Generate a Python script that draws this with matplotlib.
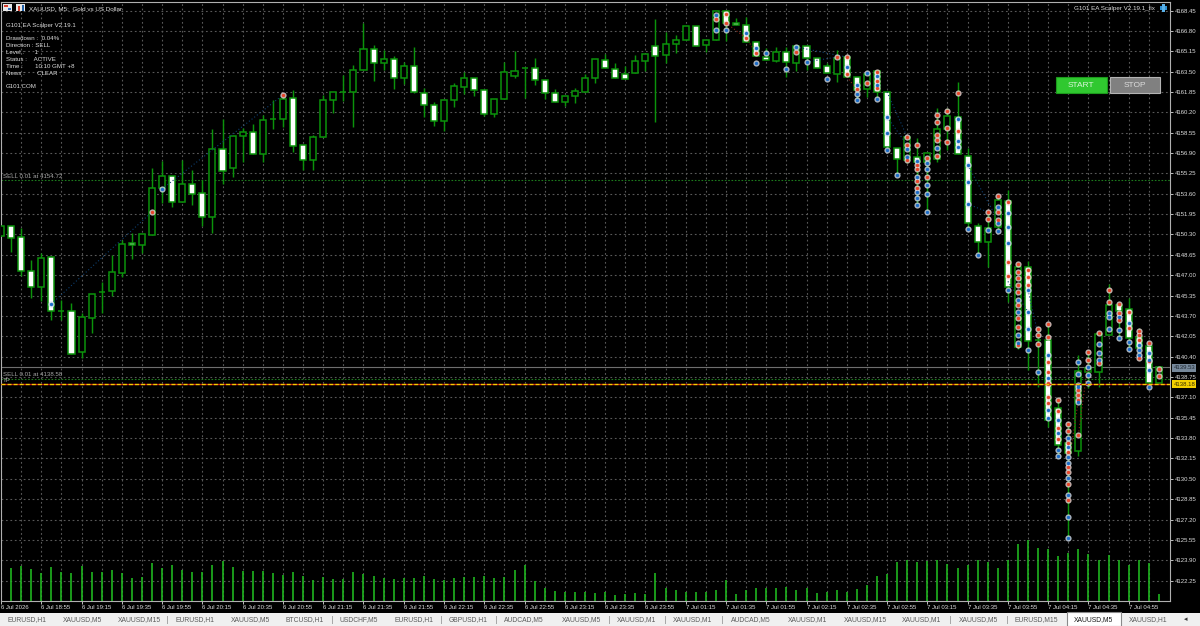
import numpy as np
import matplotlib
matplotlib.use('Agg')
import matplotlib.pyplot as plt
from matplotlib.patches import Rectangle

# bar values
opens = [4150.18, 4150.99, 4150.10, 4147.35, 4146.05, 4148.48, 4144.11, 4144.11, 4140.79, 4143.54,
         4145.65, 4145.73, 4147.19, 4149.58, 4149.45, 4150.26, 4154.07, 4155.04, 4152.94, 4154.40,
         4153.67, 4151.72, 4157.23, 4155.69, 4158.28, 4158.61, 4156.83, 4159.66, 4159.66, 4161.36,
         4157.55, 4156.34, 4158.20, 4161.20, 4161.85, 4161.85, 4163.63, 4165.33, 4164.20, 4164.52,
         4162.98, 4163.95, 4161.77, 4160.80, 4159.50, 4161.20, 4162.25, 4162.98, 4162.01, 4160.07,
         4161.28, 4163.14, 4163.79, 4163.79, 4162.82, 4161.77, 4161.04, 4161.52, 4161.85, 4162.98,
         4164.44, 4163.71, 4163.31, 4163.39, 4164.36, 4165.57, 4164.84, 4165.74, 4166.06, 4167.19,
         4165.65, 4166.06, 4168.41, 4167.44, 4167.27, 4165.90, 4164.68, 4164.36, 4165.09, 4164.20,
         4165.57, 4164.60, 4163.95, 4163.31, 4164.68, 4163.06, 4162.09, 4163.55, 4161.85, 4157.31,
         4156.34, 4156.58, 4156.18, 4156.42, 4158.85, 4159.82, 4156.66, 4150.99, 4149.70, 4150.91,
         4153.02, 4141.19, 4147.67, 4141.76, 4141.76, 4136.25, 4133.42, 4132.77, 4139.17, 4139.17,
         4142.16, 4144.60, 4144.27, 4142.00, 4141.27, 4138.28]
highs = [4150.99, 4150.99, 4150.83, 4148.24, 4148.81, 4148.48, 4145.00, 4144.76, 4143.95, 4145.49,
         4146.46, 4148.64, 4149.86, 4150.43, 4150.35, 4155.69, 4156.26, 4155.04, 4156.34, 4155.53,
         4154.72, 4158.85, 4159.66, 4158.28, 4158.93, 4159.26, 4159.98, 4161.20, 4161.60, 4162.01,
         4157.55, 4158.36, 4161.60, 4161.85, 4163.22, 4164.03, 4167.44, 4165.65, 4165.25, 4164.76,
         4164.28, 4165.49, 4162.17, 4161.04, 4161.20, 4162.58, 4163.47, 4162.98, 4162.01, 4161.28,
         4164.28, 4165.17, 4163.79, 4164.60, 4162.82, 4162.09, 4161.52, 4162.17, 4163.31, 4164.52,
         4164.93, 4164.20, 4163.95, 4164.84, 4164.93, 4167.76, 4166.71, 4166.46, 4167.19, 4167.19,
         4166.06, 4168.41, 4168.41, 4167.84, 4167.92, 4165.90, 4165.41, 4165.49, 4165.49, 4165.57,
         4165.57, 4164.60, 4164.20, 4165.25, 4164.68, 4163.06, 4163.47, 4163.55, 4161.85, 4157.31,
         4158.28, 4158.12, 4156.91, 4160.55, 4160.55, 4162.66, 4157.31, 4151.24, 4152.13, 4153.50,
         4153.91, 4147.92, 4148.16, 4142.81, 4143.06, 4137.06, 4135.04, 4140.54, 4140.95, 4142.41,
         4146.30, 4144.76, 4145.16, 4142.73, 4141.52, 4139.57]
lows = [4150.18, 4148.89, 4146.94, 4145.16, 4144.92, 4143.38, 4143.38, 4140.63, 4140.30, 4142.33,
        4143.95, 4145.32, 4146.86, 4148.32, 4148.81, 4150.26, 4152.86, 4152.53, 4152.94, 4152.69,
        4150.99, 4150.43, 4154.40, 4154.96, 4156.18, 4156.83, 4156.18, 4158.85, 4159.01, 4156.99,
        4155.53, 4155.53, 4158.20, 4160.15, 4161.12, 4159.01, 4163.63, 4162.74, 4163.63, 4162.09,
        4162.50, 4161.77, 4159.82, 4159.09, 4158.69, 4160.63, 4161.69, 4161.52, 4159.90, 4159.82,
        4161.28, 4162.98, 4161.36, 4162.41, 4161.28, 4161.04, 4160.71, 4160.96, 4161.85, 4162.58,
        4163.79, 4162.98, 4162.90, 4163.39, 4163.55, 4159.42, 4164.20, 4165.01, 4166.06, 4165.57,
        4165.09, 4166.06, 4165.98, 4167.27, 4165.90, 4164.76, 4164.44, 4164.28, 4163.06, 4163.55,
        4163.63, 4163.79, 4163.39, 4162.66, 4163.06, 4161.04, 4161.44, 4161.28, 4157.15, 4155.12,
        4156.10, 4152.69, 4152.13, 4156.18, 4157.15, 4156.83, 4150.67, 4148.64, 4147.67, 4150.59,
        4144.84, 4141.03, 4139.33, 4137.95, 4134.71, 4132.20, 4125.72, 4132.36, 4137.87, 4137.95,
        4142.16, 4141.76, 4141.03, 4140.14, 4137.95, 4138.28]
closes = [4150.99, 4150.02, 4147.35, 4146.05, 4148.40, 4144.11, 4144.11, 4140.63, 4143.62, 4145.49,
          4145.65, 4147.27, 4149.54, 4149.45, 4150.35, 4154.07, 4155.04, 4152.94, 4154.40, 4153.59,
          4151.72, 4157.23, 4155.45, 4158.28, 4158.61, 4156.83, 4159.58, 4159.66, 4161.28, 4157.47,
          4156.34, 4158.20, 4161.20, 4161.85, 4161.85, 4163.63, 4165.33, 4164.20, 4164.52, 4162.98,
          4163.95, 4161.85, 4160.80, 4159.50, 4161.20, 4162.33, 4162.98, 4162.01, 4160.07, 4161.28,
          4163.47, 4163.55, 4163.79, 4162.82, 4161.77, 4161.04, 4161.52, 4161.93, 4162.98, 4164.52,
          4163.79, 4162.98, 4162.90, 4164.36, 4164.93, 4164.76, 4165.74, 4166.06, 4167.19, 4165.57,
          4166.06, 4168.41, 4167.44, 4167.27, 4165.90, 4164.76, 4164.44, 4165.09, 4164.28, 4165.57,
          4164.60, 4163.79, 4163.39, 4164.60, 4163.06, 4162.01, 4163.31, 4161.85, 4157.39, 4156.42,
          4158.20, 4156.18, 4156.91, 4158.85, 4159.90, 4156.83, 4151.24, 4149.70, 4150.83, 4153.10,
          4146.05, 4147.67, 4141.68, 4141.76, 4135.28, 4133.25, 4132.61, 4139.25, 4139.49, 4142.25,
          4144.60, 4144.11, 4141.92, 4141.11, 4138.28, 4139.53]
volumes = [0, 33, 35, 32, 28, 34, 29, 28, 35, 29, 29, 31, 28, 23, 24, 38, 33, 36, 31, 29, 29, 36, 40, 34,
           30, 30, 30, 28, 26, 29, 25, 21, 24, 22, 22, 29, 27, 25, 23, 22, 23, 23, 25, 22, 21, 23, 24, 24,
           25, 23, 24, 31, 36, 20, 13, 10, 9, 9, 9, 8, 9, 6, 7, 8, 7, 28, 13, 11, 9, 9, 9, 11, 21, 7, 11,
           13, 13, 13, 14, 11, 13, 8, 9, 11, 9, 12, 16, 25, 27, 39, 41, 39, 40, 41, 37, 33, 36, 41, 39,
           33, 41, 57, 61, 53, 52, 45, 48, 52, 47, 41, 46, 41, 36, 41, 38, 7]

sell_bars = [15, 28, 71, 72, 72, 74, 75, 79, 83, 84, 84, 85, 86, 87, 87, 87, 90, 90, 90, 91, 91, 91, 91, 91,
             92, 92, 93, 93, 93, 93, 93, 94, 94, 94, 95, 95, 98, 98, 99, 99, 99, 100, 100, 100,
             101, 101, 101, 101, 101, 101, 101, 101, 101, 102, 102, 102, 103, 103, 103,
             104, 104, 104, 104, 104, 104, 104, 104, 105, 105, 105, 105,
             106, 106, 106, 106, 106, 106, 106, 106, 107, 107, 107, 107, 108, 108, 109, 109,
             110, 110, 111, 111, 111, 112, 112, 113, 113, 113, 113, 114, 114, 115, 115]
sell_prices = [4152.13, 4161.60, 4167.76, 4168.17, 4167.44, 4166.22, 4165.01, 4165.09, 4164.68, 4164.68,
               4163.31, 4162.09, 4162.58, 4163.47, 4162.74, 4162.17, 4158.20, 4157.55, 4156.34, 4157.55,
               4155.93, 4155.61, 4154.64, 4154.07, 4156.50, 4154.96, 4159.98, 4159.42, 4158.36, 4157.96,
               4156.66, 4160.31, 4158.93, 4157.80, 4161.77, 4158.69, 4152.13, 4151.56, 4153.42, 4152.13,
               4151.48, 4152.94, 4148.08, 4146.94, 4147.92, 4147.27, 4146.78, 4146.21, 4145.65, 4144.60,
               4143.54, 4142.81, 4141.35, 4147.43, 4146.86, 4146.21, 4142.65, 4142.16, 4141.43, 4143.06,
               4142.00, 4139.98, 4139.17, 4138.28, 4138.20, 4137.14, 4136.66, 4136.90, 4136.01, 4134.63,
               4133.74, 4134.96, 4134.39, 4133.42, 4132.69, 4131.47, 4131.07, 4130.09, 4128.80, 4134.07,
               4137.70, 4137.30, 4136.90, 4140.79, 4140.14, 4142.33, 4139.90, 4145.81, 4144.84, 4144.68,
               4143.95, 4143.38, 4144.03, 4142.73, 4142.49, 4142.16, 4141.76, 4140.30, 4141.52, 4140.06,
               4139.40, 4138.84]
buy_bars = [5, 16, 71, 71, 72, 74, 75, 75, 76, 78, 79, 80, 82, 84, 85, 85, 85, 86, 87, 87, 87, 88, 88, 88,
            89, 90, 90, 91, 91, 91, 91, 91, 92, 92, 92, 92, 92, 93, 95, 95, 95, 96, 96, 96, 96, 97, 98,
            99, 99, 99, 100, 100, 100, 100, 101, 101, 101, 101, 102, 102, 102, 102, 103,
            104, 104, 104, 104, 105, 105, 105, 105, 106, 106, 106, 106, 106, 106, 106, 106,
            107, 107, 107, 107, 107, 108, 108, 108, 109, 109, 109, 110, 110, 110, 111, 111, 111,
            112, 112, 112, 113, 113, 113, 114, 114, 114, 114]
buy_prices = [4144.68, 4153.99, 4168.09, 4166.87, 4166.87, 4166.63, 4165.41, 4164.20, 4165.01, 4163.71,
              4165.49, 4164.28, 4162.90, 4163.87, 4162.41, 4161.69, 4161.20, 4163.39, 4163.14, 4162.41,
              4161.28, 4159.82, 4158.53, 4157.15, 4155.12, 4157.23, 4156.58, 4156.26, 4154.96, 4153.74,
              4153.26, 4152.69, 4156.10, 4155.61, 4154.31, 4153.59, 4152.13, 4157.31, 4159.66, 4157.88,
              4157.39, 4155.93, 4154.56, 4152.77, 4150.75, 4148.64, 4150.67, 4152.53, 4151.24, 4150.59,
              4152.04, 4150.91, 4149.61, 4145.81, 4145.00, 4144.03, 4142.16, 4141.52, 4145.81, 4144.03,
              4142.65, 4140.95, 4139.17, 4140.54, 4138.68, 4136.08, 4135.42, 4135.28, 4134.22, 4132.85,
              4132.36, 4133.82, 4133.09, 4132.28, 4131.79, 4130.58, 4129.20, 4127.42, 4125.72, 4139.98,
              4139.00, 4138.11, 4137.95, 4136.74, 4139.57, 4138.92, 4138.28, 4141.43, 4140.70, 4140.14,
              4143.95, 4143.62, 4142.65, 4143.62, 4142.57, 4141.92, 4143.14, 4141.59, 4141.03, 4141.35,
              4140.95, 4140.54, 4140.70, 4140.14, 4139.33, 4137.95]

# closed trades: bar and price at each end of the dotted line
blue_from_bar = [5, 16, 79, 80, 88, 88, 96, 96, 100, 102]
blue_from_price = [4144.68, 4153.99, 4165.49, 4164.28, 4161.85, 4159.82, 4155.93, 4152.77, 4146.50, 4145.81]
blue_to_bar = [15, 28, 84, 83, 90, 90, 99, 98, 102, 103]
blue_to_price = [4152.13, 4161.60, 4164.68, 4164.68, 4158.20, 4157.55, 4151.48, 4152.13, 4144.03, 4142.16]
red_from_bar = [72, 74, 84, 93, 106, 107]
red_from_price = [4167.44, 4166.22, 4163.06, 4157.96, 4131.47, 4134.07]
red_to_bar = [74, 75, 85, 94, 107, 108]
red_to_price = [4166.22, 4165.01, 4162.09, 4157.80, 4136.90, 4140.14]

sell_level_top = 4154.72
sell_level_low = 4138.58
bid_level = 4139.53
tp_level = 4138.18

price_ticks = [4168.45, 4166.80, 4165.15, 4163.50, 4161.85, 4160.20, 4158.55, 4156.90, 4155.25, 4153.60,
               4151.95, 4150.30, 4148.65, 4147.00, 4145.35, 4143.70, 4142.05, 4140.40, 4138.75, 4137.10,
               4135.45, 4133.80, 4132.15, 4130.50, 4128.85, 4127.20, 4125.55, 4123.90, 4122.25]
time_labels = ['6 Jul 2026', '6 Jul 18:55', '6 Jul 19:15', '6 Jul 19:35', '6 Jul 19:55', '6 Jul 20:15',
               '6 Jul 20:35', '6 Jul 20:55', '6 Jul 21:15', '6 Jul 21:35', '6 Jul 21:55', '6 Jul 22:15',
               '6 Jul 22:35', '6 Jul 22:55', '6 Jul 23:15', '6 Jul 23:35', '6 Jul 23:55', '7 Jul 01:15',
               '7 Jul 01:35', '7 Jul 01:55', '7 Jul 02:15', '7 Jul 02:35', '7 Jul 02:55', '7 Jul 03:15',
               '7 Jul 03:35', '7 Jul 03:55', '7 Jul 04:15', '7 Jul 04:35', '7 Jul 04:55']
tab_names = ['EURUSD,H1', 'XAUUSD,M5', 'XAUUSD,M15', 'EURUSD,H1', 'XAUUSD,M5', 'BTCUSD,H1', 'USDCHF,M5',
             'EURUSD,H1', 'GBPUSD,H1', 'AUDCAD,M5', 'XAUUSD,M5', 'XAUUSD,M1', 'XAUUSD,M1', 'AUDCAD,M5',
             'XAUUSD,M1', 'XAUUSD,M15', 'XAUUSD,M1', 'XAUUSD,M5', 'EURUSD,M15', 'XAUUSD,M5', 'XAUUSD,H1']
tab_centres = [27, 82, 139, 195, 250, 305, 359, 414, 468, 524, 581, 637, 693, 751, 808, 865, 922, 978, 1036, 1093, 1148]
panel_lines = ['G101 EA Scalper V2.19.1', 'Drawdown :  0.04%', 'Direction : SELL', 'Level :      1',
               'Status :    ACTIVE', 'Time :       10:10 GMT +8', 'News :       CLEAR', 'G101.COM']
panel_y = [25, 38.7, 45.7, 52.7, 59.7, 66.6, 73.5, 87]

W, H = 1200, 626
GREEN = '#0b930b'
TXT = '#dedede'
plt.rcParams['font.family'] = ['Liberation Sans', 'DejaVu Sans']


def fx(px):
    return px / W


def fy(py):
    return 1 - py / H


fig = plt.figure(figsize=(W / 100, H / 100), dpi=100, facecolor='black')
ax = fig.add_axes([fx(1), fy(601), 1169 / W, 599 / H], facecolor='black')

bars = np.arange(len(opens))
o = np.array(opens)
c = np.array(closes)

ax.vlines(bars, lows, highs, color=GREEN, lw=1.05, zorder=3)
body_bottom = np.minimum(o, c)
body_height = np.abs(c - o)
faces = ['white' if cl < op else 'black' for op, cl in zip(o, c)]
ax.bar(bars, body_height, bottom=body_bottom, width=0.6, color=faces, edgecolor=GREEN, lw=1.1, zorder=4)

# trade lines and deal arrows
for x0, p0, x1, p1 in zip(blue_from_bar, blue_from_price, blue_to_bar, blue_to_price):
    ax.plot([x0, x1], [p0, p1], color='#0d3f70', ls=(0, (1, 2)), lw=0.8, zorder=5)
for x0, p0, x1, p1 in zip(red_from_bar, red_from_price, red_to_bar, red_to_price):
    ax.plot([x0, x1], [p0, p1], color='#8a2414', ls=(0, (1, 2)), lw=0.8, zorder=5)

ax.scatter(sell_bars, sell_prices, s=20, color='#f2dcd8', alpha=0.8, lw=0, zorder=6)
ax.scatter(sell_bars, sell_prices, s=6, color='#e8452a', lw=0, zorder=7)
ax.scatter(buy_bars, buy_prices, s=20, color='#d4e0ee', alpha=0.8, lw=0, zorder=6)
ax.scatter(buy_bars, buy_prices, s=6, color='#1c6cc8', lw=0, zorder=7)

# order levels
ax.axhline(sell_level_top, color='#1c7a1c', ls=(0, (1.5, 1.5)), lw=0.8, zorder=2)
ax.axhline(sell_level_low, color='#1c7a1c', ls=(0, (1.5, 1.5)), lw=0.8, zorder=2)
ax.axhline(bid_level, color='#6e6e6e', lw=0.8, zorder=2)
ax.axhline(tp_level, color='#c81e14', lw=0.95, zorder=8)
ax.axhline(tp_level, color='#f2cf00', ls=(0, (3, 1.6)), lw=0.95, zorder=9)

ax.set_xlim(0.137, 116.1)
ax.set_ylim(4120.60, 4169.14)

# tick volume is on its own scale, sitting on the bottom of the window
vol_ax = ax.twinx()
vol_ax.vlines(bars, 0, volumes, color='#1fb51f', lw=1.2, zorder=2)
vol_ax.set_ylim(0, 599)
vol_ax.tick_params(right=False, labelright=False)
vol_ax.patch.set_visible(False)
for side in vol_ax.spines:
    vol_ax.spines[side].set_visible(False)

# twinx moves the price scale to the left, so set it up after that
ax.yaxis.tick_right()
ax.set_xticks(bars[::4], time_labels)
ax.set_xticks(bars[::2], minor=True)
ax.set_yticks(price_ticks, ['%.2f' % p for p in price_ticks])
ax.grid(True, which='both', color='#585858', ls=(0, (1.6, 2.4)), lw=0.8)
ax.set_axisbelow(True)
ax.tick_params(axis='y', colors=TXT, labelsize=4.3, length=2, width=0.6, pad=1.5)
ax.tick_params(axis='x', which='major', colors=TXT, labelsize=4.3, length=2, width=0.6, pad=1)
ax.tick_params(axis='x', which='minor', length=0)
for lab in ax.get_xticklabels():
    lab.set_ha('left')
for side in ['top', 'bottom', 'left', 'right']:
    ax.spines[side].set_color('#b0b0b0')
    ax.spines[side].set_linewidth(0.8)

# window texts
fig.text(fx(29), fy(9), 'XAUUSD, M5:  Gold vs US Dollar', color=TXT, fontsize=4.5, va='center')
fig.text(fx(1155), fy(8.5), 'G101 EA Scalper V2.19.1_fix', color=TXT, fontsize=4.5, va='center', ha='right')
for line, py in zip(panel_lines, panel_y):
    fig.text(fx(6), fy(py), line, color=TXT, fontsize=4.4, va='center')
fig.text(fx(3), fy(176), 'SELL 0.01 at %.2f' % sell_level_top, color='#a8a8a8', fontsize=4.4, va='center')
fig.text(fx(3), fy(375), 'SELL 0.01 at %.2f' % sell_level_low, color='#a8a8a8', fontsize=4.4, va='center')
fig.text(fx(3), fy(380.5), 'TP', color='#a8a8a8', fontsize=4.4, va='center')


def box(x0, y0, x1, y1, color, **kw):
    fig.add_artist(Rectangle((fx(x0), fy(y1)), (x1 - x0) / W, (y1 - y0) / H, transform=fig.transFigure,
                             facecolor=color, **kw))


# little toolbar icons
box(3, 4, 12, 11, '#e8e8e8')
box(4, 5, 8, 7, '#d84030')
box(8, 8, 11, 10, '#3070c0')
box(16, 4, 25, 11, '#e8e8e8')
box(18, 6, 20, 11, '#d84030')
box(22, 5, 24, 11, '#2060a8')
box(1160, 6, 1167, 10, '#2f8fd0')
box(1162, 4, 1165, 12, '#58b0e8')

# buttons
box(1056, 77, 1107, 93, '#30c830', edgecolor='#1c9a1c', lw=0.8)
box(1110, 77, 1160, 93, '#808080', edgecolor='#b4b4b4', lw=0.8)
fig.text(fx(1081), fy(85.5), 'START', color='#d8f5d8', fontsize=6, va='center', ha='center')
fig.text(fx(1135), fy(85.5), 'STOP', color='#dcdcdc', fontsize=6, va='center', ha='center')

# price tags on the axis
box(1172, 364, 1196, 371.5, '#76889a', zorder=10)
fig.text(fx(1174), fy(367.8), '%.2f' % bid_level, color='#1e2833', fontsize=4.3, va='center', zorder=11)
box(1172, 380, 1196, 388, '#f2cf00', zorder=10)
fig.text(fx(1174), fy(384), '%.2f' % tp_level, color='#3a3000', fontsize=4.3, va='center', zorder=11)

# symbol tabs
box(0, 613, W, H, '#f0f0f0')
box(1067, 612, 1121, H, 'white', edgecolor='#8a8a8a', lw=0.8)
for name, cx in zip(tab_names, tab_centres):
    fig.text(fx(cx), fy(620), name, color='#5a5a5a' if cx != 1093 else '#1a1a1a', fontsize=4.9,
             va='center', ha='center')
for cx0, cx1 in zip(tab_centres[:-1], tab_centres[1:]):
    if cx0 != 1093 and cx1 != 1093:
        box((cx0 + cx1) / 2, 616, (cx0 + cx1) / 2 + 0.7, 624, '#a8a8a8')
fig.text(fx(1186), fy(620), '◂', color='#333333', fontsize=5, va='center', ha='center')

fig.savefig('out.png', dpi=100, facecolor='black')
